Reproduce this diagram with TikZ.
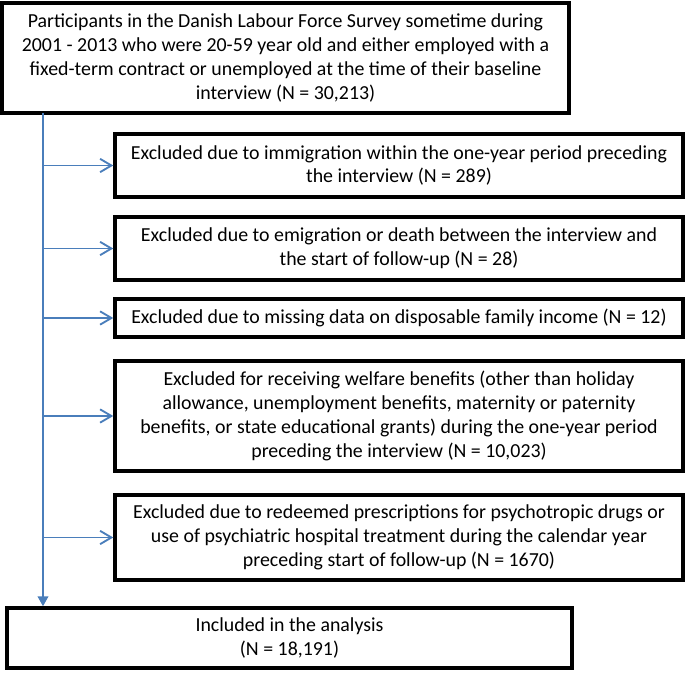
\documentclass[tikz,border=0pt]{standalone}
\usepackage{fontspec}
\setmainfont{Carlito}
\usetikzlibrary{arrows.meta,positioning}
\definecolor{flowblue}{RGB}{74,126,187}
\tikzset{
	box/.style={draw,rectangle,align=center,line width=2.6pt,inner sep=0pt,
		font=\fontsize{14.9}{17.8}\selectfont},
	widebox/.style={box,minimum width=567*0.75pt},
	exbox/.style={box,minimum width=568*0.75pt},
	main/.style={flowblue,line width=1.4pt,-{Triangle[length=7.5pt,width=8pt]}},
	side/.style={flowblue,line width=1.4pt,-{Straight Barb[length=8.5pt,width=10pt,line width=1.4pt]}}
}

\begin{document}
\begin{tikzpicture}[x=0.75pt,y=-0.75pt]
			\useasboundingbox (0,0) rectangle (685,673);
			\node[widebox,minimum height=110*0.75pt] (part) at (285.5,58) {Participants in the Danish Labour Force Survey sometime during\\2001 - 2013 who were 20-59 year old and either employed with a\\fixed-term contract or unemployed at the time of their baseline\\interview (N = 30,213)};
			\node[exbox,minimum height=63*0.75pt] (immi) at (399,165.5) {Excluded due to immigration within the one-year period preceding\\the interview (N = 289)};
			\node[exbox,minimum height=63*0.75pt] (emig) at (399,248.5) {Excluded due to emigration or death between the interview and\\the start of follow-up (N = 28)};
			\node[exbox,minimum height=38*0.75pt] (inc) at (399,318) {Excluded due to missing data on disposable family income (N = 12)};
			\node[exbox,minimum height=110*0.75pt] (welf) at (399,416) {Excluded for receiving welfare benefits (other than holiday\\allowance, unemployment benefits, maternity or paternity\\benefits, or state educational grants) during the one-year period\\preceding the interview (N = 10,023)};
			\node[exbox,minimum height=85*0.75pt] (psych) at (399,537.5) {Excluded due to redeemed prescriptions for psychotropic drugs or\\use of psychiatric hospital treatment during the calendar year\\preceding start of follow-up (N = 1670)};
			\node[box,minimum width=565*0.75pt,minimum height=60*0.75pt] (incl) at (289.5,638) {Included in the analysis\\(N = 18,191)};
			\coordinate (trunk) at (43,113);
			
			\draw[main] (trunk) -- (incl.north -| trunk);
			\foreach \ex in {immi,emig,inc,welf,psych}
				\draw[side] (\ex.west -| trunk) -- (\ex.west);
		\end{tikzpicture}
\end{document}
